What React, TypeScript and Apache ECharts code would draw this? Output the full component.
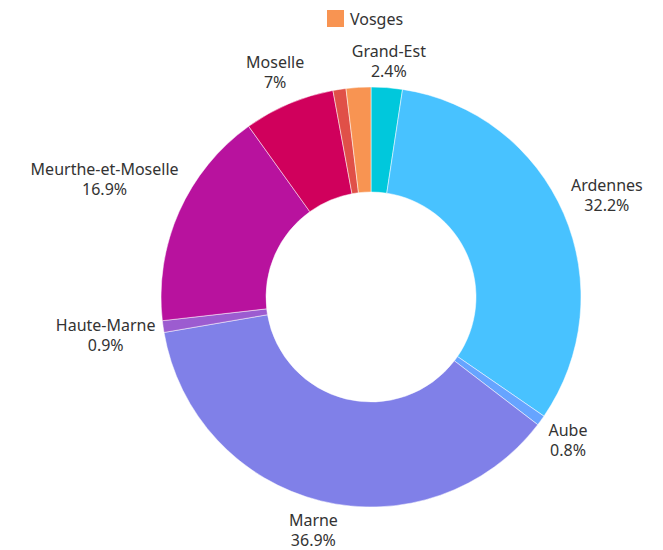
import React, { useEffect, useRef } from "react";
import * as echarts from "echarts";

const names = ["Grand-Est", "Ardennes", "Aube", "Marne", "Haute-Marne", "Meurthe-et-Moselle", "Moselle", "Bas-Rhin", "Vosges"];
const values = [2.4, 32.2, 0.8, 36.9, 0.9, 16.9, 7, 1.0, 1.9];
const colors = ["#00C8DC", "#48C2FF", "#66A4FF", "#8080E8", "#9C5CD0", "#B8129E", "#D0005C", "#E05048", "#F89452"];
const hiddenLabels = ["Bas-Rhin", "Vosges"];
const legendItems = ["Vosges"];

const CX = 371;
const CY = 297;
const R_IN = 105;
const R_OUT = 210;
const GAP = 6;

export default function App() {
  const ref = useRef<HTMLDivElement>(null);
  useEffect(() => {
    if (!ref.current) return;
    const chart = echarts.init(ref.current, null, { renderer: "svg" });
    const total = values.reduce((a, b) => a + b, 0);
    const midAngles: number[] = [];
    let cum = 0;
    values.forEach((v) => {
      const mid = cum + v / 2;
      midAngles.push(((90 - (mid / total) * 360) * Math.PI) / 180);
      cum += v;
    });
    const font = "'Noto Sans', sans-serif";
    chart.setOption({
      animation: false,
      color: colors,
      legend: {
        data: legendItems,
        left: 320,
        top: 3,
        icon: "rect",
        itemWidth: 19,
        itemHeight: 19,
        itemGap: 10,
        textStyle: { fontSize: 16, color: "#333", fontFamily: font },
      },
      series: [
        {
          type: "pie",
          center: [CX, CY],
          radius: [R_IN, R_OUT],
          startAngle: 90,
          clockwise: true,
          avoidLabelOverlap: false,
          itemStyle: { borderColor: "#fff", borderWidth: 0.5 },
          label: {
            show: true,
            position: "outside",
            fontSize: 16,
            lineHeight: 20,
            color: "#333",
            fontFamily: font,
            formatter: (p: any) => `${p.name}\n${p.value}%`,
          },
          labelLine: { show: false },
          labelLayout: (params: any) => {
            const a = midAngles[params.dataIndex];
            const w = params.labelRect.width;
            const h = params.labelRect.height;
            const ux = Math.cos(a);
            const uy = -Math.sin(a);
            let D = 0;
            for (; D < 500; D += 0.5) {
              const x = D * ux;
              const y = D * uy;
              const x0 = x - w / 2, x1 = x + w / 2, y0 = y - h / 2, y1 = y + h / 2;
              const px = Math.min(Math.max(0, x0), x1);
              const py = Math.min(Math.max(0, y0), y1);
              if (Math.hypot(px, py) >= R_OUT + GAP) break;
            }
            return {
              x: CX + D * ux,
              y: CY + D * uy,
              align: "center",
              verticalAlign: "middle",
            };
          },
          data: names.map((n, i) => ({
            name: n,
            value: values[i],
            label: { show: hiddenLabels.indexOf(n) < 0 },
          })),
        },
      ],
    });
    return () => chart.dispose();
  }, []);
  return (
    <div
      ref={ref}
      style={{ position: "fixed", left: 0, top: 0, width: 663, height: 550, background: "#fff" }}
    />
  );
}
